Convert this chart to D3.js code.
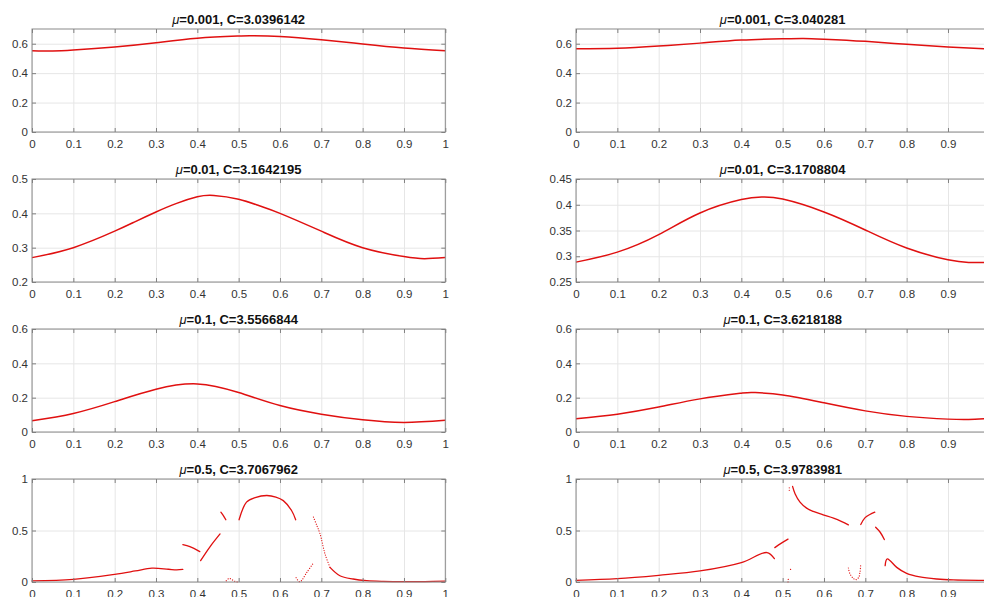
<!DOCTYPE html>
<html>
<head>
<meta charset="utf-8">
<script src="https://cdn.jsdelivr.net/npm/d3@7"></script>
<style>
  html, body { margin: 0; padding: 0; background: #fff; }
  svg { display: block; font-family: "Liberation Sans", Arial, Helvetica, sans-serif; }
  .grid line { stroke: #e6e6e6; stroke-width: 1; }
  .grid path { display: none; }
  .ax path { display: none; }
  .ax line { stroke: #808080; stroke-width: 1; }
  .ax text { fill: #333; font-size: 11.5px; }
  .frame { fill: none; stroke: #8a8a8a; stroke-width: 1; }
  .curve { fill: none; stroke: #e01010; stroke-width: 1.5; }
  .seg { fill: none; stroke: #e01010; stroke-width: 1.3; stroke-linecap: round; }
  .seg.sparse { stroke-width: 1.2; stroke-dasharray: 0.1 2.4; }
</style>
</head>
<body>
<svg id="chart" width="984" height="597"></svg>
<script>
// ---- tick values ----
const xTicksFull = [0, 0.1, 0.2, 0.3, 0.4, 0.5, 0.6, 0.7, 0.8, 0.9, 1];
const xTicksRight = [0, 0.1, 0.2, 0.3, 0.4, 0.5, 0.6, 0.7, 0.8, 0.9];
const yTicksA = [0, 0.2, 0.4, 0.6];
const yTicksB = [0.2, 0.3, 0.4, 0.5];
const yTicksC = [0.25, 0.3, 0.35, 0.4, 0.45];
const yTicksD = [0, 0.5, 1];

// ---- mu = 0.001 ----
const x001L = [0, 0.05, 0.1, 0.2, 0.3, 0.4, 0.5, 0.53, 0.6, 0.7, 0.8, 0.9, 1];
const y001L = [0.553, 0.551, 0.557, 0.578, 0.607, 0.637, 0.652, 0.654, 0.649, 0.627, 0.598, 0.571, 0.553];
const x001R = [0, 0.1, 0.2, 0.3, 0.4, 0.5, 0.55, 0.6, 0.7, 0.8, 0.9, 0.99];
const y001R = [0.566, 0.569, 0.584, 0.604, 0.625, 0.634, 0.636, 0.631, 0.616, 0.596, 0.578, 0.566];

// ---- mu = 0.01 ----
const x01L = [0, 0.1, 0.2, 0.25, 0.3, 0.35, 0.4, 0.44, 0.5, 0.55, 0.6, 0.7, 0.8, 0.9, 0.95, 1];
const y01L = [0.271, 0.300, 0.348, 0.376, 0.404, 0.429, 0.448, 0.452, 0.441, 0.422, 0.400, 0.348, 0.300, 0.274, 0.268, 0.271];
const x01R = [0, 0.1, 0.2, 0.3, 0.4, 0.45, 0.5, 0.6, 0.7, 0.8, 0.9, 0.95, 0.99];
const y01R = [0.2886, 0.308, 0.342, 0.384, 0.410, 0.415, 0.411, 0.386, 0.351, 0.316, 0.293, 0.288, 0.288];

// ---- mu = 0.1 ----
const x1L = [0, 0.1, 0.2, 0.3, 0.4, 0.5, 0.6, 0.7, 0.8, 0.9, 1];
const y1L = [0.066, 0.108, 0.177, 0.249, 0.280, 0.230, 0.154, 0.104, 0.071, 0.056, 0.068];
const x1R = [0, 0.1, 0.2, 0.3, 0.4, 0.43, 0.5, 0.6, 0.7, 0.8, 0.9, 0.95, 0.99];
const y1R = [0.077, 0.104, 0.145, 0.193, 0.226, 0.230, 0.216, 0.170, 0.123, 0.091, 0.075, 0.073, 0.077];

// ---- mu = 0.5, C = 3.7067962 : separate branches ----
const m5L_a = [[0, 0.010], [0.1, 0.026], [0.2, 0.075], [0.25, 0.107], [0.29, 0.134], [0.33, 0.124], [0.35, 0.118], [0.365, 0.122]];
const m5L_b = [[0.365, 0.363], [0.382, 0.343], [0.406, 0.295]];
const m5L_c = [[0.408, 0.207], [0.431, 0.344], [0.455, 0.467]];
const m5L_d = [[0.457, 0.678], [0.463, 0.645], [0.469, 0.604]];
const m5L_e = [[0.501, 0.604], [0.519, 0.775], [0.540, 0.820], [0.568, 0.840], [0.590, 0.825], [0.608, 0.790], [0.628, 0.694], [0.638, 0.604]];
const m5L_f = [[0.470, 0.012], [0.477, 0.035], [0.485, 0.020], [0.492, 0.004], [0.500, 0.000]];
const m5L_g = [[0.681, 0.630], [0.689, 0.550], [0.697, 0.467], [0.709, 0.272], [0.721, 0.142]];
const m5L_h = [[0.721, 0.142], [0.745, 0.061], [0.777, 0.029], [0.810, 0.013], [0.850, 0.006], [0.900, 0.003], [0.950, 0.004], [1, 0.008]];
const m5L_i = [[0.639, 0.042], [0.648, 0.002], [0.665, 0.094], [0.681, 0.185]];

// ---- mu = 0.5, C = 3.9783981 : separate branches ----
const m5R_a = [[0, 0.016], [0.1, 0.032], [0.2, 0.065], [0.3, 0.107], [0.4, 0.188], [0.462, 0.286], [0.480, 0.227]];
const m5R_b = [[0.481, 0.334], [0.497, 0.377], [0.513, 0.416]];
const m5R_c = [[0.519, 0.122], [0.524, 0.120]];
const m5R_d = [[0.513, 0.000], [0.514, 0.040]];
const m5R_e = [[0.516, 0.915], [0.516, 0.882]];
const m5R_f = [[0.524, 0.928], [0.530, 0.857], [0.542, 0.775], [0.558, 0.717], [0.574, 0.685], [0.598, 0.652], [0.623, 0.620], [0.643, 0.587], [0.659, 0.555]];
const m5R_g = [[0.689, 0.558], [0.699, 0.623], [0.711, 0.655], [0.723, 0.678]];
const m5R_h = [[0.725, 0.532], [0.736, 0.483], [0.746, 0.412]];
const m5R_i = [[0.659, 0.136], [0.663, 0.078], [0.671, 0.035], [0.677, 0.022], [0.684, 0.045], [0.687, 0.094], [0.689, 0.175]];
const m5R_j = [[0.748, 0.159], [0.750, 0.207], [0.753, 0.224], [0.760, 0.207], [0.776, 0.142], [0.800, 0.084], [0.832, 0.049], [0.873, 0.029], [0.913, 0.020], [0.977, 0.016], [0.99, 0.016]];

const zipXY = (xs, ys) => xs.map((x, i) => [x, ys[i]]);

const panels = [
  { col: 0, row: 0, mu: "0.001", C: "3.0396142", yDomain: [0, 0.7], yTicks: yTicksA, curves: [zipXY(x001L, y001L)] },
  { col: 1, row: 0, mu: "0.001", C: "3.040281", yDomain: [0, 0.7], yTicks: yTicksA, curves: [zipXY(x001R, y001R)] },
  { col: 0, row: 1, mu: "0.01", C: "3.1642195", yDomain: [0.2, 0.5], yTicks: yTicksB, curves: [zipXY(x01L, y01L)] },
  { col: 1, row: 1, mu: "0.01", C: "3.1708804", yDomain: [0.25, 0.45], yTicks: yTicksC, curves: [zipXY(x01R, y01R)] },
  { col: 0, row: 2, mu: "0.1", C: "3.5566844", yDomain: [0, 0.6], yTicks: yTicksA, curves: [zipXY(x1L, y1L)] },
  { col: 1, row: 2, mu: "0.1", C: "3.6218188", yDomain: [0, 0.6], yTicks: yTicksA, curves: [zipXY(x1R, y1R)] },
  { col: 0, row: 3, mu: "0.5", C: "3.7067962", yDomain: [0, 1], yTicks: yTicksD,
    segs: [m5L_a, m5L_b, m5L_c, m5L_d, m5L_e, m5L_h], sparse: [m5L_f, m5L_g, m5L_i] },
  { col: 1, row: 3, mu: "0.5", C: "3.9783981", yDomain: [0, 1], yTicks: yTicksD,
    segs: [m5R_a, m5R_b, m5R_f, m5R_g, m5R_h, m5R_j], sparse: [m5R_c, m5R_d, m5R_e, m5R_i] }
];

// ---- layout ----
const colX = [32, 576];
const rowY = [29, 179, 329, 479];
const plotW = 413.3, plotH = 103;

const svg = d3.select("#chart");

panels.forEach(p => {
  const g = svg.append("g").attr("transform", `translate(${colX[p.col]},${rowY[p.row]})`);
  const x = d3.scaleLinear().domain([0, 1]).range([0, plotW]);
  const y = d3.scaleLinear().domain(p.yDomain).range([plotH, 0]);
  // the right column runs past the page edge, so its last tick is not drawn
  const xTicks = p.col === 0 ? xTicksFull : xTicksRight;

  // grid
  g.append("g").attr("class", "grid").attr("transform", `translate(0,${plotH})`)
    .call(d3.axisBottom(x).tickValues(xTicks).tickSize(-plotH).tickFormat(""));
  g.append("g").attr("class", "grid")
    .call(d3.axisLeft(y).tickValues(p.yTicks).tickSize(-plotW).tickFormat(""));

  // data
  const smooth = d3.line().x(d => x(d[0])).y(d => y(d[1])).curve(d3.curveNatural);
  const branch = d3.line().x(d => x(d[0])).y(d => y(d[1])).curve(d3.curveCatmullRom.alpha(0.5));
  (p.curves || []).forEach(c => {
    g.append("path").attr("class", "curve").attr("d", smooth(c));
  });
  (p.segs || []).forEach(s => {
    g.append("path").attr("class", "seg").attr("d", branch(s));
  });
  (p.sparse || []).forEach(s => {
    g.append("path").attr("class", "seg sparse").attr("d", branch(s));
  });

  // frame
  g.append("rect").attr("class", "frame").attr("x", 0).attr("y", 0).attr("width", plotW).attr("height", plotH);

  // axes with inward ticks
  const fmt = d => String(d);
  g.append("g").attr("class", "ax").attr("transform", `translate(0,${plotH})`)
    .call(d3.axisBottom(x).tickValues(xTicks).tickSize(-4).tickPadding(7.5).tickFormat(fmt));
  g.append("g").attr("class", "ax")
    .call(d3.axisTop(x).tickValues(xTicks).tickSize(-4).tickFormat(""));
  g.append("g").attr("class", "ax")
    .call(d3.axisLeft(y).tickValues(p.yTicks).tickSize(-4).tickPadding(4).tickFormat(fmt));
  g.append("g").attr("class", "ax").attr("transform", `translate(${plotW},0)`)
    .call(d3.axisRight(y).tickValues(p.yTicks).tickSize(-4).tickFormat(""));

  // title
  const t = g.append("text")
    .attr("x", plotW / 2).attr("y", -5)
    .attr("text-anchor", "middle")
    .style("font-size", "13px").style("font-weight", "bold").style("fill", "#111");
  t.append("tspan").style("font-style", "italic").style("font-weight", "normal").text("\u03bc");
  t.append("tspan").text(`=${p.mu}, C=${p.C}`);
});
</script>
</body>
</html>
